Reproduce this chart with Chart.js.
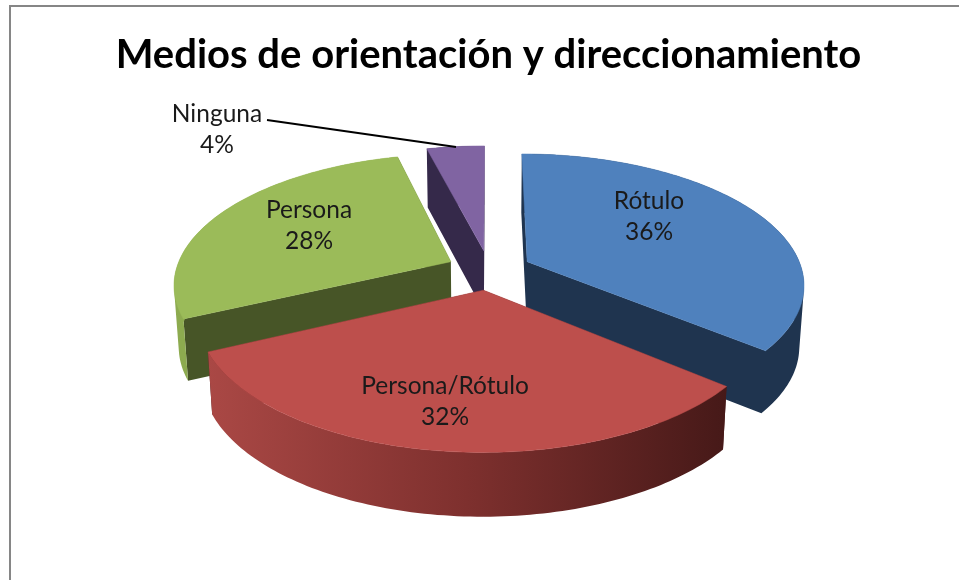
<!DOCTYPE html>
<html><head><meta charset="utf-8">
<style>html,body{margin:0;padding:0;background:#fff;overflow:hidden}#w{position:relative;width:959px;height:580px}
#f{position:absolute;left:9px;top:5px;width:960px;height:600px;border:2px solid #868686;box-sizing:border-box}
canvas{position:absolute;left:0;top:0}</style>
<script src="https://cdn.jsdelivr.net/npm/chart.js@4"></script>
</head><body><div id="w"><div id="f"></div><canvas id="c" width="959" height="580"></canvas></div>
<script>
const categories = ['Rótulo','Persona/Rótulo','Persona','Ninguna'];
const values = [36,32,28,4];
const topColors = ['#4f81bd','#bd4f4c','#9bbb59','#8064a2'];
const wallColors = ['#1f344f','#4a1a18','#475527','#35294a'];
const drawOrder = [3,2,0,1];
const labelPos = [[649,215],[445,400],[309,224],[217,128]];
const titleText = 'Medios de orientación y direccionamiento';

const cx=489, cy=270, A=275, B=128, K=0.165, E=0.155, DEPTH=61;
function proj(u,v){const w=1/(1-K*v);return [cx+A*u*w, cy+B*v*w, w];}

const pie3d={id:'pie3d',afterDatasetsDraw(chart){
  const ctx=chart.ctx, meta=chart.getDatasetMeta(0);
  drawOrder.forEach(i=>{
    const arc=meta.data[i];
    const a0=arc.startAngle, a1=arc.endAngle, mid=(a0+a1)/2;
    const ou=E*Math.cos(mid), ov=E*Math.sin(mid);
    const n=Math.max(12,Math.ceil((a1-a0)*50));
    const pts=[[ou,ov]];
    for(let k=0;k<=n;k++){const a=a0+(a1-a0)*k/n;pts.push([ou+Math.cos(a),ov+Math.sin(a)]);}
    const tp=pts.map(p=>proj(p[0],p[1]));
    const bt=tp.map(p=>[cx+(p[0]-cx)*0.985,p[1]+DEPTH+(p[2]-1)*14]);
    const m=tp.length;
    // all quads go into one path with the same winding, so no seams show
    const addQuad=(k,j)=>{
      const q=[tp[k],tp[j],bt[j],bt[k]];
      let s=0;
      for(let t=0;t<4;t++){const a=q[t],b=q[(t+1)%4];s+=a[0]*b[1]-b[0]*a[1];}
      if(s<0)q.reverse();
      q.forEach((p,t)=>t?ctx.lineTo(p[0],p[1]):ctx.moveTo(p[0],p[1]));
      ctx.closePath();
    };
    let fill=wallColors[i];
    const plainWall=(i===0||i===3);
    if(!plainWall){
      ctx.fillStyle=wallColors[i];
      ctx.beginPath();addQuad(0,1);addQuad(m-1,0);ctx.fill();
    }
    if(i===1){
      fill=ctx.createLinearGradient(207,0,727,0);
      fill.addColorStop(0,'#aa4845');fill.addColorStop(0.5,'#7e302e');fill.addColorStop(1,'#461918');
    }
    if(i===2) fill='#8dab4f';
    ctx.fillStyle=fill;
    ctx.beginPath();
    if(plainWall){addQuad(0,1);addQuad(m-1,0);}
    for(let k=1;k<m-1;k++)addQuad(k,k+1);
    ctx.fill();
    // top face
    ctx.fillStyle=ctx.strokeStyle=topColors[i];ctx.lineWidth=0.5;
    ctx.beginPath();tp.forEach((p,k)=>k?ctx.lineTo(p[0],p[1]):ctx.moveTo(p[0],p[1]));ctx.closePath();ctx.fill();ctx.stroke();
  });
  // leader line for the small slice
  ctx.strokeStyle='#000';ctx.lineWidth=2;ctx.beginPath();ctx.moveTo(267,120);ctx.lineTo(456,147);ctx.stroke();
  // labels
  ctx.font='24.5px Lato';ctx.fillStyle='#1a1a1a';ctx.textAlign='center';ctx.textBaseline='middle';
  const total=values.reduce((a,b)=>a+b,0);
  categories.forEach((c,i)=>{
    ctx.fillText(c,labelPos[i][0],labelPos[i][1]-14);
    ctx.fillText(Math.round(values[i]/total*100)+'%',labelPos[i][0],labelPos[i][1]+17);
  });
}};
new Chart(document.getElementById('c'),{
  type:'pie',
  data:{labels:categories,datasets:[{data:values,backgroundColor:'rgba(0,0,0,0)',borderWidth:0}]},
  options:{responsive:false,animation:false,layout:{padding:{left:18}},
    plugins:{legend:{display:false},tooltip:{enabled:false},
      title:{display:true,text:titleText,color:'#000',font:{family:'Lato',size:40,weight:'bold'},padding:{top:31,bottom:10}}}},
  plugins:[pie3d]
});
</script></body></html>
